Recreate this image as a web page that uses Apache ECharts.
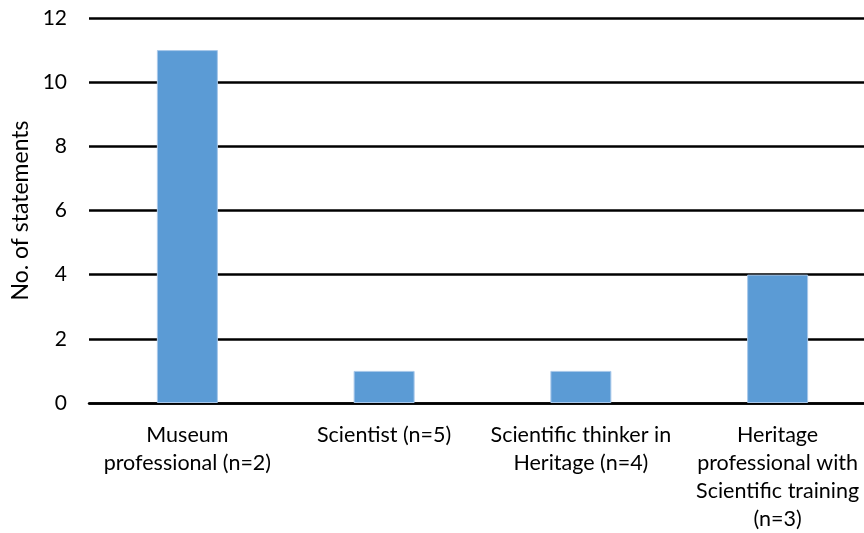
<!DOCTYPE html>
<html>
<head>
<meta charset="utf-8">
<script src="https://cdn.jsdelivr.net/npm/echarts@6/dist/echarts.min.js"></script>
<style>
  html, body { margin: 0; padding: 0; background: #fff; overflow: hidden; }
  /* the original is cropped on the right, so the plot runs past the edge */
  #chart { width: 876px; height: 533px; }
</style>
</head>
<body>
<div id="chart"></div>
<script>
// categories on the x axis (line breaks as in the original)
var categories = [
  "Museum\nprofessional (n=2)",
  "Scientist (n=5)",
  "Scientific thinker in\nHeritage (n=4)",
  "Heritage\nprofessional with\nScientific training\n(n=3)"
];
var statements = [11, 1, 1, 4];

var chart = echarts.init(document.getElementById("chart"));
var font = "Lato, 'Open Sans', sans-serif";

chart.setOption({
  animation: false,
  grid: {
    left: 89,
    right: 0,
    top: 18,
    bottom: 130
  },
  xAxis: {
    type: "category",
    data: categories,
    axisLine: { show: true, lineStyle: { color: "#000", width: 2.5 } },
    axisTick: { show: false },
    axisLabel: {
      interval: 0,
      color: "#000",
      fontFamily: font,
      fontSize: 21.5,
      lineHeight: 28,
      margin: 18
    }
  },
  yAxis: {
    type: "value",
    min: 0,
    max: 12,
    interval: 2,
    name: "No. of statements",
    nameLocation: "middle",
    nameGap: 56,
    nameTextStyle: { color: "#000", fontFamily: font, fontSize: 23 },
    axisLine: { show: false },
    axisTick: { show: false },
    axisLabel: { color: "#000", fontFamily: font, fontSize: 21, margin: 22 },
    splitLine: { lineStyle: { color: "#000", width: 2.5 } }
  },
  series: [
    {
      type: "bar",
      data: statements,
      barWidth: "31%",
      z: 3,
      itemStyle: {
        color: "#5b9bd5",
        borderColor: "#a9c8ea",
        borderWidth: 1
      }
    }
  ]
});
</script>
</body>
</html>
